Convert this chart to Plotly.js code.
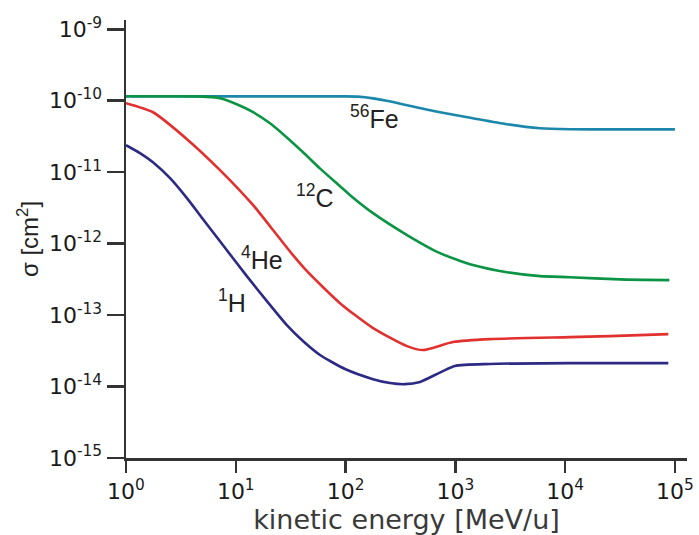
<!DOCTYPE html>
<html>
<head>
<meta charset="utf-8">
<script src="https://cdn.plot.ly/plotly-3.0.1.min.js"></script>
<style>
  html, body { margin: 0; padding: 0; background: #ffffff; }
  #chart { width: 699px; height: 535px; }
</style>
</head>
<body>
<div id="chart"></div>
<script>
// Kinetic energy [MeV/u] and cross section sigma [cm^2]
const feEnergy = [1, 10, 100, 130, 178, 250, 363, 724, 1445, 2951, 5888, 10965, 100000];
const feSigma  = [1.15e-10, 1.15e-10, 1.15e-10, 1.14e-10, 1.08e-10, 9.84e-11, 8.65e-11, 6.90e-11, 5.69e-11, 4.69e-11, 4.12e-11, 3.99e-11, 3.98e-11];

const cEnergy = [1, 3, 4.7, 7.2, 10.2, 14.4, 20.5, 29, 41, 58, 89, 110, 178, 363, 724, 1445, 2950, 5890, 11000, 31600, 89000];
const cSigma  = [1.156e-10, 1.156e-10, 1.15e-10, 1.084e-10, 8.93e-11, 6.92e-11, 4.84e-11, 3.09e-11, 1.9e-11, 1.14e-11, 6.37e-12, 4.77e-12, 2.67e-12, 1.32e-12, 7.36e-13, 5.01e-13, 3.98e-13, 3.51e-13, 3.39e-13, 3.16e-13, 3.09e-13];

const heEnergy = [1, 1.76, 3.59, 7.18, 14.4, 23.7, 33.2, 44.5, 88.9, 178, 363, 507, 951, 2065, 10965, 25700, 87100];
const heSigma  = [9.23e-11, 6.90e-11, 2.90e-11, 1.07e-11, 3.45e-12, 1.32e-12, 6.90e-13, 4.12e-13, 1.47e-13, 6.58e-14, 3.68e-14, 3.24e-14, 4.19e-14, 4.61e-14, 4.92e-14, 5.08e-14, 5.42e-14];

const hEnergy = [1, 1.34, 1.76, 2.52, 3.59, 5.03, 7.18, 12.6, 19.2, 29.2, 40.9, 58.5, 98.9, 178, 254, 348, 476, 991, 2065, 10965, 87100];
const hSigma  = [2.39e-11, 1.85e-11, 1.38e-11, 8.24e-12, 4.33e-12, 2.20e-12, 1.08e-12, 3.51e-13, 1.57e-13, 7.24e-14, 4.33e-14, 2.76e-14, 1.76e-14, 1.27e-14, 1.12e-14, 1.08e-14, 1.16e-14, 1.94e-14, 2.07e-14, 2.13e-14, 2.13e-14];

const xTickVals = [1, 10, 100, 1000, 10000, 100000];
const xTickText = ['10<sup>0</sup>', '10<sup>1</sup>', '10<sup>2</sup>', '10<sup>3</sup>', '10<sup>4</sup>', '10<sup>5</sup>'];
const yTickVals = [1e-15, 1e-14, 1e-13, 1e-12, 1e-11, 1e-10, 1e-9];
const yTickText = ['10<sup>-15</sup>', '10<sup>-14</sup>', '10<sup>-13</sup>', '10<sup>-12</sup>', '10<sup>-11</sup>', '10<sup>-10</sup>', '10<sup>-9</sup>'];

const seriesNames = ['<sup>56</sup>Fe', '<sup>12</sup>C', '<sup>4</sup>He', '<sup>1</sup>H'];
const seriesColors = ['#1b87aa', '#0a9444', '#e0312f', '#2c2a84'];

const data = [
  {x: feEnergy, y: feSigma},
  {x: cEnergy, y: cSigma},
  {x: heEnergy, y: heSigma},
  {x: hEnergy, y: hSigma}
].map((s, i) => ({
  x: s.x, y: s.y, type: 'scatter', mode: 'lines', name: seriesNames[i],
  line: {color: seriesColors[i], width: 2.6, shape: 'spline', smoothing: 0.6}, hoverinfo: 'x+y+name'
}));

const labelFont = {family: 'Liberation Sans, Arial, sans-serif', size: 25, color: '#222'};
const annotations = [
  {x: 2.259, y: -10.231, text: seriesNames[0]},
  {x: 1.721, y: -11.336, text: seriesNames[1]},
  {x: 1.239, y: -12.203, text: seriesNames[2]},
  {x: 0.965, y: -12.804, text: seriesNames[3]}
].map(a => Object.assign({xref: 'x', yref: 'y', showarrow: false, font: labelFont, xanchor: 'center', yanchor: 'middle'}, a));

const tickFont = {family: 'DejaVu Sans, sans-serif', size: 22, color: '#1a1a1a'};

const layout = {
  width: 699, height: 535,
  margin: {l: 126, r: 12, t: 20, b: 77},
  paper_bgcolor: '#ffffff', plot_bgcolor: '#ffffff',
  showlegend: false,
  xaxis: {
    type: 'log', range: [0, 5.11],
    tickmode: 'array', tickvals: xTickVals, ticktext: xTickText,
    ticks: 'outside', ticklen: 12, tickwidth: 2.5, tickcolor: '#333',
    showline: true, linecolor: '#333', linewidth: 2.5,
    showgrid: false, zeroline: false,
    tickfont: tickFont,
    title: {text: 'kinetic energy [MeV/u]', font: {family: 'DejaVu Sans, sans-serif', size: 27, color: '#3a3a3a'}, standoff: 4}
  },
  yaxis: {
    type: 'log', range: [-15, -8.87],
    tickmode: 'array', tickvals: yTickVals, ticktext: yTickText,
    ticks: 'outside', ticklen: 17, tickwidth: 2.5, tickcolor: '#333',
    showline: true, linecolor: '#333', linewidth: 2.5,
    showgrid: false, zeroline: false,
    tickfont: tickFont,
    title: {text: 'σ [cm<sup>2</sup>]', font: {family: 'Liberation Sans, Arial, sans-serif', size: 24, color: '#222'}, standoff: 4}
  },
  annotations: annotations
};

Plotly.newPlot('chart', data, layout, {displayModeBar: false, staticPlot: true});
</script>
</body>
</html>
